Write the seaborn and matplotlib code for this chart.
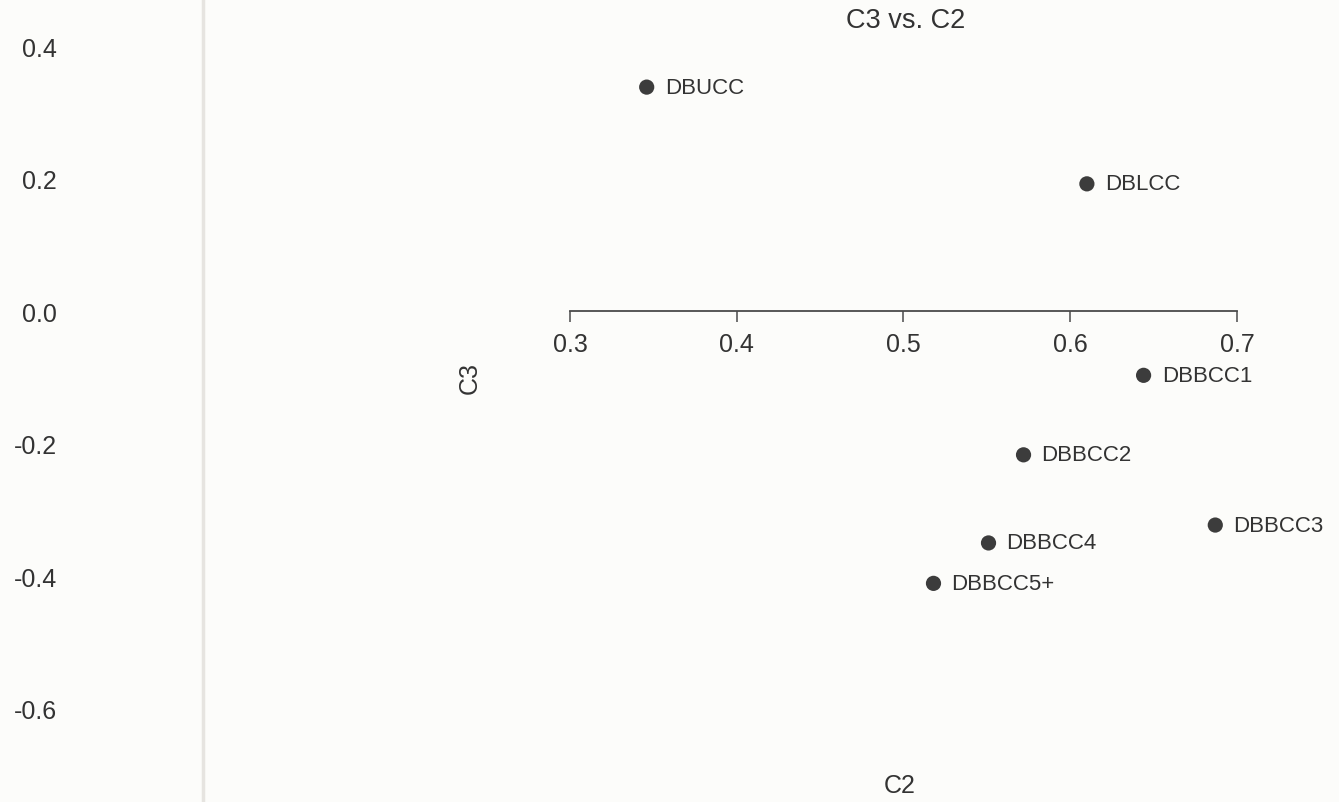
import numpy as np
import pandas as pd
import matplotlib
matplotlib.use('Agg')
import matplotlib.pyplot as plt
import seaborn as sns

# values
labels=['DBUCC', 'DBLCC', 'DBBCC1', 'DBBCC2', 'DBBCC3', 'DBBCC4', 'DBBCC5+']
c2=[0.346, 0.610, 0.644, 0.572, 0.687, 0.551, 0.518]
c3=[0.338, 0.192, -0.097, -0.217, -0.323, -0.350, -0.411]
xticks=[0.3, 0.4, 0.5, 0.6, 0.7]
yticks=[0.4, 0.2, 0.0, -0.2, -0.4, -0.6]

df=pd.DataFrame({'label': labels, 'C2': c2, 'C3': c3})

sns.set_style('white')
plt.rcParams['font.family']=['Liberation Sans', 'DejaVu Sans']

paper='#fcfcfa'
ink='#333333'

fig=plt.figure(figsize=(13.39, 8.03), dpi=100, facecolor=paper)
ax=fig.add_axes([203/1339, 0, 1-203/1339, 1])
ax.set_facecolor(paper)

sns.scatterplot(data=df, x='C2', y='C3', ax=ax, s=120, color='#3c3c3c',
                edgecolor='none', legend=False)

for _, r in df.iterrows():
    ax.annotate(r['label'], (r['C2'], r['C3']), xytext=(13, 0),
                textcoords='offset points', va='center', ha='left',
                fontsize=16, color=ink)

ax.set_xlim(0.0799, 0.7612)
ax.set_ylim(-0.741, 0.471)

# x axis drawn through zero, only over 0.3 - 0.7
ax.spines['bottom'].set_position(('data', 0))
ax.spines['bottom'].set_bounds(0.3, 0.7)
ax.spines['bottom'].set_color('#4a4a4a')
ax.spines['bottom'].set_linewidth(1.3)
ax.spines['top'].set_visible(False)
ax.spines['right'].set_visible(False)
ax.spines['left'].set_color('#e6e4e0')
ax.spines['left'].set_linewidth(2.5)

ax.set_xticks(xticks)
ax.set_xticklabels([f'{v:.1f}' for v in xticks])
ax.set_yticks(yticks)
ax.set_yticklabels([f'{v:.1f}' for v in yticks])
ax.tick_params(axis='x', direction='out', length=8, width=1.1, color='#4a4a4a',
               labelsize=18, labelcolor=ink, pad=7, bottom=True)
ax.tick_params(axis='y', length=0, labelsize=18, labelcolor=ink, pad=105, left=True)

ax.set_xlabel('C2', fontsize=18, color=ink)
ax.xaxis.set_label_coords((900-203)/1136, 17/803)
ax.xaxis.label.set_va('center')
ax.set_ylabel('C3', fontsize=18, color=ink)
ax.yaxis.set_label_coords((470-203)/1136, 1-378/803)
ax.yaxis.label.set_va('center')

fig.text(906/1339, 1-21/803, 'C3 vs. C2', ha='center', va='center',
         fontsize=19.5, color=ink)

plt.savefig('out.png', dpi=100, facecolor=paper)
plt.close()
